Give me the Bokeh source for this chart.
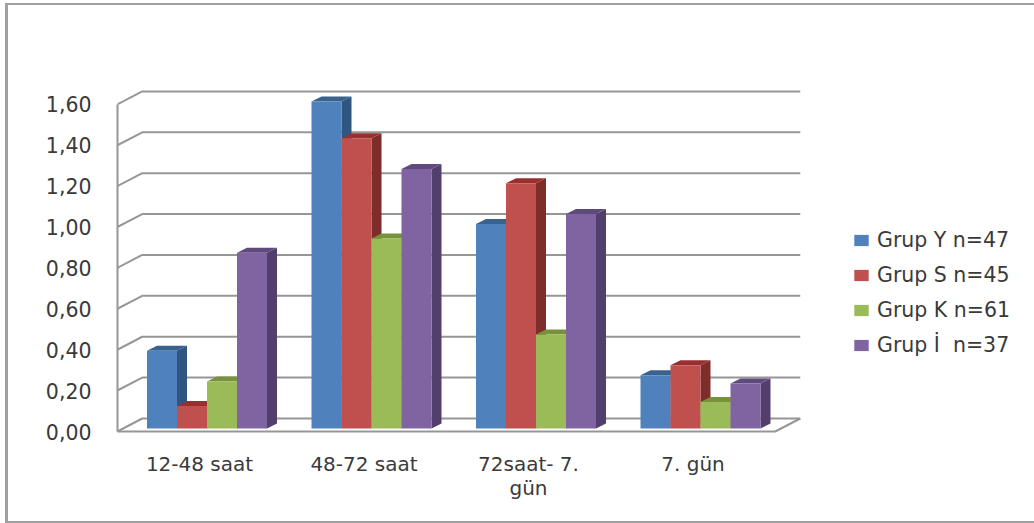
from bokeh.embed import file_html
from bokeh.models import FixedTicker, Legend, LegendItem, Range1d
from bokeh.plotting import figure
from bokeh.resources import INLINE

categories = ["12-48 saat", "48-72 saat", "72saat- 7.\ngün", "7. gün"]
series_names = ["Grup Y n=47", "Grup S n=45", "Grup K n=61", "Grup İ  n=37"]
grup_y = [0.38, 1.60, 1.00, 0.26]
grup_s = [0.11, 1.42, 1.20, 0.31]
grup_k = [0.23, 0.93, 0.46, 0.13]
grup_i = [0.86, 1.27, 1.05, 0.22]
y_ticks = [0.0, 0.2, 0.4, 0.6, 0.8, 1.0, 1.2, 1.4, 1.6]
y_tick_labels = ["0,00", "0,20", "0,40", "0,60", "0,80", "1,00", "1,20", "1,40", "1,60"]

front_colors = ["#4F81BD", "#C0504D", "#9BBB59", "#8064A2"]
side_colors = ["#2F5581", "#7F2D2B", "#6C8539", "#533F6E"]
top_colors = ["#39628F", "#97302E", "#789239", "#5F4A7E"]
GREY = "#969696"
BORDER = "#A0A0A0"
TEXT = "#3A3A3A"
FONT = "DejaVu Sans"

# Axis scales: one category is 164.5 px wide and one value unit 204.4 px tall.
PX_X, PX_Y = 164.5, 204.4
WALL_DX, WALL_DY = 25 / PX_X, 13 / PX_Y      # depth of the floor and walls
BAR_DX, BAR_DY = 10 / PX_X, 5 / PX_Y         # depth of a bar
BAR_W = 30 / PX_X
BAR_SHIFT = 7.5 / PX_X                       # bars stand a little behind the front edge
BAR_BASE = 3 / PX_Y
X_MIN, X_MAX = -0.5, 3.5

p = figure(
    width=1034, height=523, output_backend="svg", toolbar_location=None,
    x_range=Range1d(-82 / PX_X, (1034 - 199) / PX_X),
    y_range=Range1d(-2 / PX_Y, 431 / PX_Y),
    min_border_left=117, min_border_right=0, min_border_top=0, min_border_bottom=90,
    outline_line_color=None, background_fill_color=None, border_fill_color=None,
)
p.grid.visible = False

# Chart border along the top, left and bottom, painted behind the transparent canvas
rule = f"linear-gradient({BORDER},{BORDER})"
p.styles = {
    "background-image": ",".join([rule, rule, rule]),
    "background-size": "3px 519px, 1029px 2px, 1029px 2px",
    "background-position": "5px 3px, 5px 3px, 5px 521px",
    "background-repeat": "no-repeat",
}

# Back wall gridlines with their short diagonals down to the axis
wall_xs = [[X_MIN, X_MIN + WALL_DX, X_MAX + WALL_DX] for _ in y_ticks]
wall_ys = [[v, v + WALL_DY, v + WALL_DY] for v in y_ticks]
p.multi_line(wall_xs, wall_ys, line_color=GREY, line_width=2)

# Floor edges
p.line([X_MIN, X_MAX, X_MAX + WALL_DX], [0, 0, WALL_DY], line_color=GREY, line_width=2)

# Bars, left to right so each one overlaps the side face of its neighbour
legend_items = []
series_values = [grup_y, grup_s, grup_k, grup_i]
for s, values in enumerate(series_values):
    lefts = [g + BAR_SHIFT + (s - 2) * BAR_W for g in range(len(values))]
    rights = [x + BAR_W for x in lefts]
    tops = [v + BAR_BASE for v in values]
    side_x = [[r, r + BAR_DX, r + BAR_DX, r] for r in rights]
    side_y = [[BAR_BASE, BAR_BASE + BAR_DY, t + BAR_DY, t] for t in tops]
    top_x = [[l, l + BAR_DX, r + BAR_DX, r] for l, r in zip(lefts, rights)]
    top_y = [[t, t + BAR_DY, t + BAR_DY, t] for t in tops]
    p.patches(side_x, side_y, fill_color=side_colors[s], line_color=None)
    p.patches(top_x, top_y, fill_color=top_colors[s], line_color=None)
    front = p.quad(left=lefts, right=rights, bottom=BAR_BASE, top=tops,
                   fill_color=front_colors[s], line_color=None)
    legend_items.append(LegendItem(label=series_names[s], renderers=[front]))

yaxis = p.yaxis[0]
yaxis.ticker = FixedTicker(ticks=y_ticks)
yaxis.major_label_overrides = dict(zip(y_ticks, y_tick_labels))
yaxis.bounds = (0, 1.6)
yaxis.axis_line_color = GREY
yaxis.axis_line_width = 2
yaxis.major_tick_line_color = None
yaxis.minor_tick_line_color = None
yaxis.major_tick_out = 0
yaxis.major_tick_in = 0
yaxis.major_label_standoff = 26
yaxis.major_label_text_font = FONT
yaxis.major_label_text_font_size = "20.5px"
yaxis.major_label_text_color = TEXT

xaxis = p.xaxis[0]
xaxis.ticker = FixedTicker(ticks=list(range(len(categories))))
xaxis.major_label_overrides = dict(enumerate(categories))
xaxis.axis_line_color = None
xaxis.major_tick_line_color = None
xaxis.minor_tick_line_color = None
xaxis.major_tick_out = 0
xaxis.major_tick_in = 0
xaxis.major_label_standoff = 18
xaxis.major_label_text_font = FONT
xaxis.major_label_text_font_size = "20px"
xaxis.major_label_text_line_height = 1.0
xaxis.major_label_text_color = TEXT

legend = Legend(
    items=legend_items, location=(735, 76), orientation="vertical",
    background_fill_alpha=0, border_line_color=None, padding=0, margin=0,
    glyph_width=18, glyph_height=14, label_standoff=7, spacing=11,
    label_text_font=FONT, label_text_font_size="20.5px", label_text_color=TEXT,
)
p.add_layout(legend)

open("out.html", "w").write(file_html(p, INLINE))
